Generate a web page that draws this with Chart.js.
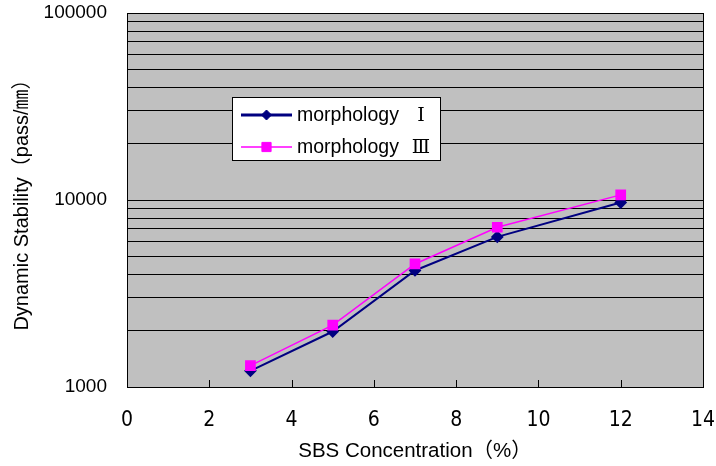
<!DOCTYPE html>
<html>
<head>
<meta charset="UTF-8">
<title>Dynamic Stability vs SBS Concentration</title>
<script src="https://cdn.jsdelivr.net/npm/chart.js@4.4.1/dist/chart.umd.min.js"></script>
<style>
  html, body { margin: 0; padding: 0; background: #fff; }
  #wrap { width: 716px; height: 466px; }
</style>
</head>
<body>
<div id="wrap"><canvas id="chart" width="716" height="466"></canvas></div>
<script>
// values
const concentration = [3, 5, 7, 9, 12];
const morphologyI = [1220, 1980, 4200, 6350, 9700];
const morphologyIII = [1300, 2140, 4550, 7150, 10650];
const seriesNames = ['morphology Ⅰ', 'morphology Ⅲ'];
const xTicks = [0, 2, 4, 6, 8, 10, 12, 14];
const yTicks = [1000, 2000, 3000, 4000, 5000, 6000, 7000, 8000, 9000,
                10000, 20000, 30000, 40000, 50000, 60000, 70000, 80000, 90000, 100000];
const yLabels = [1000, 10000, 100000];

const FONT = "'Liberation Sans', 'Noto Sans CJK JP', sans-serif";
const ROMAN = "'DejaVu Serif', 'Noto Sans CJK JP', serif";
const NARROW = "'Liberation Sans Narrow', 'DejaVu Sans Condensed', sans-serif";

const toPoints = (ys) => concentration.map((x, i) => ({ x, y: ys[i] }));

// gray plot area, frame and inner tick marks on the x axis
const plotFrame = {
  id: 'plotFrame',
  beforeDraw(chart) {
    const { ctx, chartArea: a } = chart;
    ctx.save();
    ctx.fillStyle = '#c0c0c0';
    ctx.fillRect(a.left, a.top, a.right - a.left, a.bottom - a.top);
    ctx.restore();
  },
  beforeDatasetsDraw(chart) {
    const { ctx, chartArea: a, scales: { x } } = chart;
    ctx.save();
    ctx.strokeStyle = '#000';
    ctx.lineWidth = 1;
    ctx.beginPath();
    xTicks.slice(1, -1).forEach(v => {
      const px = Math.round(x.getPixelForValue(v)) + 0.5;
      ctx.moveTo(px, a.bottom);
      ctx.lineTo(px, a.bottom - 7);
    });
    ctx.stroke();
    ctx.strokeRect(Math.round(a.left) + 0.5, Math.round(a.top) + 0.5,
                   Math.round(a.right - a.left), Math.round(a.bottom - a.top));
    ctx.restore();
  }
};

// boxed legend inside the plot
const boxLegend = {
  id: 'boxLegend',
  afterDatasetsDraw(chart) {
    const { ctx, chartArea: a } = chart;
    const left = Math.round(a.left) + 105, top = Math.round(a.top) + 84;
    const w = 208, h = 63;
    ctx.save();
    ctx.fillStyle = '#fff';
    ctx.fillRect(left, top, w, h);
    ctx.strokeStyle = '#000';
    ctx.lineWidth = 1;
    ctx.strokeRect(left + 0.5, top + 0.5, w, h);
    chart.data.datasets.forEach((ds, i) => {
      const y = top + 18 + i * 32;
      ctx.strokeStyle = ds.borderColor;
      ctx.lineWidth = i === 0 ? 3 : 1.5;
      ctx.beginPath();
      ctx.moveTo(left + 9, y);
      ctx.lineTo(left + 60, y);
      ctx.stroke();
      ctx.fillStyle = ds.pointBackgroundColor;
      ctx.strokeStyle = ds.pointBorderColor;
      ctx.lineWidth = 1;
      Chart.helpers.drawPoint(ctx, { pointStyle: ds.pointStyle, radius: ds.pointRadius, rotation: 0, borderWidth: 1 }, left + 34.5, y);
      // name in latin font, roman numeral in a serif font
      const cut = ds.label.lastIndexOf(' ');
      ctx.fillStyle = '#000';
      ctx.textBaseline = 'middle';
      ctx.textAlign = 'left';
      ctx.font = "19.5px " + FONT;
      ctx.fillText(ds.label.slice(0, cut), left + 65, y + 1);
      ctx.font = "19px " + ROMAN;
      ctx.textAlign = 'center';
      ctx.fillText(ds.label.slice(cut + 1), left + 189, y + 1);
    });
    ctx.restore();
  }
};

new Chart(document.getElementById('chart'), {
  type: 'line',
  data: {
    datasets: [
      {
        label: seriesNames[0],
        data: toPoints(morphologyI),
        borderColor: '#000080',
        borderWidth: 2,
        pointStyle: 'rectRot',
        pointRadius: 5,
        pointBackgroundColor: '#000080',
        pointBorderColor: '#000080',
        order: 1
      },
      {
        label: seriesNames[1],
        data: toPoints(morphologyIII),
        borderColor: '#ff00ff',
        borderWidth: 1.5,
        pointStyle: 'rect',
        pointRadius: 6.5,
        pointBackgroundColor: '#ff00ff',
        pointBorderColor: '#ff00ff',
        order: 0
      }
    ]
  },
  options: {
    responsive: false,
    animation: false,
    layout: { padding: { top: 13, right: 13, left: 0, bottom: 0 } },
    plugins: { legend: { display: false }, tooltip: { enabled: false } },
    elements: { line: { tension: 0 } },
    scales: {
      x: {
        type: 'linear',
        min: 0,
        max: 14,
        afterFit: s => { s.height = 79; s.paddingLeft = 0; s.paddingRight = 0; },
        afterBuildTicks: s => { s.ticks = xTicks.map(value => ({ value })); },
        grid: { display: false, drawTicks: false },
        border: { display: false },
        ticks: { padding: 21, color: '#000', font: { family: NARROW, size: 21 } },
        title: {
          display: true,
          text: 'SBS Concentration（%）',
          color: '#000',
          font: { family: FONT, size: 20.5 },
          padding: { top: 0, bottom: 2 }
        }
      },
      y: {
        type: 'logarithmic',
        min: 1000,
        max: 100000,
        afterFit: s => { s.width = 127; s.paddingTop = 0; s.paddingBottom = 0; },
        afterBuildTicks: s => { s.ticks = yTicks.map(value => ({ value })); },
        grid: { color: '#000', lineWidth: 1, drawTicks: false },
        border: { display: false },
        ticks: {
          autoSkip: false,
          padding: 20,
          color: '#000',
          font: { family: FONT, size: 19 },
          callback: v => yLabels.includes(v) ? String(v) : ''
        },
        title: {
          display: true,
          text: 'Dynamic Stability（pass/㎜）',
          color: '#000',
          font: { family: FONT, size: 20 },
          padding: { top: 10, bottom: 0 }
        }
      }
    }
  },
  plugins: [plotFrame, boxLegend]
});
</script>
</body>
</html>
